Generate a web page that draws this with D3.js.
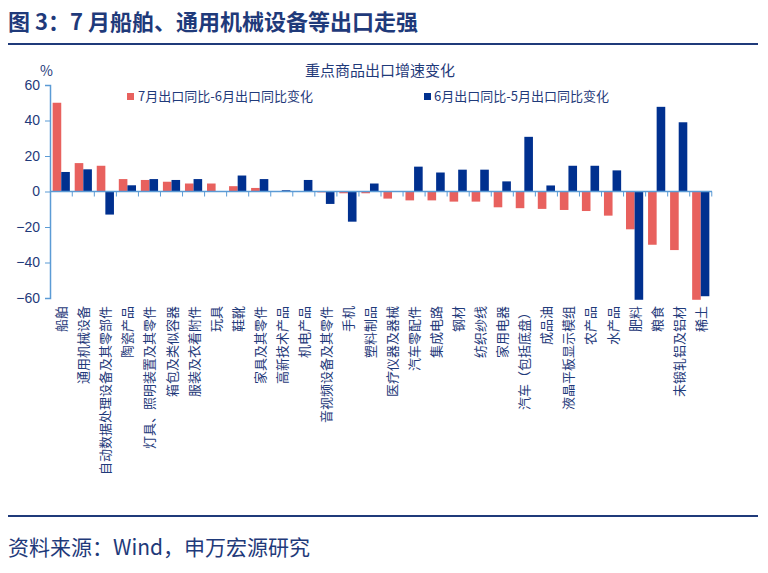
<!doctype html>
<html>
<head>
<meta charset="utf-8">
<style>
  body { margin: 0; background: #fff; font-family: "Noto Sans CJK SC", "Liberation Sans", sans-serif; }
  text { fill: #1F3A7A; }
</style>
</head>
<body>
<div id="chart"></div>
<script src="https://cdn.jsdelivr.net/npm/d3@7"></script>
<script>
var categories = ['船舶','通用机械设备','自动数据处理设备及其零部件','陶瓷产品','灯具、照明装置及其零件','箱包及类似容器','服装及衣着附件','玩具','鞋靴','家具及其零件','高新技术产品','机电产品','音视频设备及其零件','手机','塑料制品','医疗仪器及器械','汽车零配件','集成电路','钢材','纺织纱线','家用电器','汽车（包括底盘）','成品油','液晶平板显示模组','农产品','水产品','肥料','粮食','未锻轧铝及铝材','稀土'];
var julyChange = [50,16,14.5,7,6.5,5.5,4.5,4.5,3,2,0,0,-0.5,-1,-1,-4,-5,-5,-5.7,-5.7,-8.9,-9.4,-9.8,-10.4,-11,-13.6,-21.3,-30,-33,-61];
var juneChange = [11,12.5,-13,3.5,7,6.5,7,0,9,7,0.7,6.5,-7,-17,4.5,0,14,10.7,12.3,12.3,5.7,30.8,3.4,14.5,14.5,11.9,-61,47.7,39,-59];
var yTicks = [-60,-40,-20,0,20,40,60];

var W = 768, H = 573;
var svg = d3.select('#chart').append('svg').attr('width', W).attr('height', H);

svg.append('text').attr('x', 8).attr('y', 30)
  .style('font-size', '22px').style('font-weight', 'bold').style('fill', '#1F3A7A')
  .text('图 3：7 月船舶、通用机械设备等出口走强');
svg.append('line').attr('x1', 8).attr('x2', 758).attr('y1', 44).attr('y2', 44)
  .attr('stroke', '#1F3A7A').attr('stroke-width', 2);
svg.append('line').attr('x1', 8).attr('x2', 758).attr('y1', 516).attr('y2', 516)
  .attr('stroke', '#1F3A7A').attr('stroke-width', 2);
svg.append('text').attr('x', 8).attr('y', 555)
  .style('font-size', '21px').style('fill', '#1F3A7A')
  .text('资料来源：Wind，申万宏源研究');

var plotLeft = 50, plotRight = 712, plotTop = 85, plotBottom = 298;
var x = d3.scaleBand().domain(categories).range([plotLeft, plotRight]).paddingInner(0.22).paddingOuter(0.12);
var x1 = d3.scaleBand().domain(['a','b']).range([0, x.bandwidth()]);
var y = d3.scaleLinear().domain([-60, 60]).range([plotBottom, plotTop]);

svg.append('text').attr('x', 40).attr('y', 76).style('font-size', '14px').text('%');
svg.append('text').attr('x', 380).attr('y', 76).attr('text-anchor', 'middle')
  .style('font-size', '15px').text('重点商品出口增速变化');

// y axis
var ya = svg.append('g').attr('transform', 'translate(' + plotLeft + ',0)')
  .call(d3.axisLeft(y).tickValues(yTicks).tickSize(5));
ya.select('.domain').attr('stroke', '#5B9BD5').attr('stroke-width', 1.5);
ya.selectAll('.tick line').attr('stroke', '#5B9BD5');
ya.selectAll('.tick text').style('font-size', '14px').style('fill', '#1F3A7A').attr('x', -10);

// bars
var g = svg.append('g');
g.selectAll('rect.a').data(julyChange).enter().append('rect')
  .attr('x', function(d, i) { return x(categories[i]) + x1('a'); })
  .attr('width', x1.bandwidth())
  .attr('y', function(d) { return y(Math.max(0, d)); })
  .attr('height', function(d) { return Math.abs(y(d) - y(0)); })
  .attr('fill', '#E8615E');
g.selectAll('rect.b').data(juneChange).enter().append('rect')
  .attr('x', function(d, i) { return x(categories[i]) + x1('b'); })
  .attr('width', x1.bandwidth())
  .attr('y', function(d) { return y(Math.max(0, d)); })
  .attr('height', function(d) { return Math.abs(y(d) - y(0)); })
  .attr('fill', '#00308F');

// zero axis with ticks between categories
var za = svg.append('g').attr('transform', 'translate(0,' + y(0) + ')');
za.append('line').attr('x1', plotLeft).attr('x2', plotRight).attr('stroke', '#5B9BD5').attr('stroke-width', 1.5);
za.selectAll('line.t').data(categories).enter().append('line')
  .attr('x1', function(d) { return x(d) + x.bandwidth() + x.step() * x.paddingInner() / 2; })
  .attr('x2', function(d) { return x(d) + x.bandwidth() + x.step() * x.paddingInner() / 2; })
  .attr('y1', 0).attr('y2', 5).attr('stroke', '#5B9BD5');

// category labels
svg.selectAll('text.cat').data(categories).enter().append('text')
  .attr('transform', function(d) { return 'translate(' + (x(d) + x.bandwidth() / 2 + 5) + ',306) rotate(-90)'; })
  .attr('text-anchor', 'end')
  .style('font-size', '13px')
  .text(function(d) { return d; });

// legend
svg.append('rect').attr('x', 127).attr('y', 93).attr('width', 7).attr('height', 7).attr('fill', '#E8615E');
svg.append('text').attr('x', 138).attr('y', 101).style('font-size', '13px').text('7月出口同比-6月出口同比变化');
svg.append('rect').attr('x', 424).attr('y', 93).attr('width', 7).attr('height', 7).attr('fill', '#00308F');
svg.append('text').attr('x', 434).attr('y', 101).style('font-size', '13px').text('6月出口同比-5月出口同比变化');
</script>
</body>
</html>
